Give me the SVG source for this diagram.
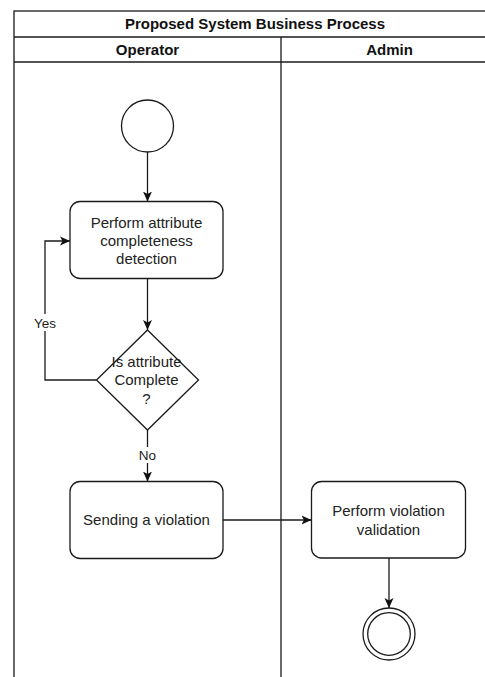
<svg xmlns="http://www.w3.org/2000/svg" width="485" height="677" viewBox="0 0 485 677">
<style>
.ln{stroke:#1a1a1a;stroke-width:1.3;fill:none}
.shape{stroke:#1a1a1a;stroke-width:1.3;fill:#ffffff}
.t{font-family:"Liberation Sans",Arial,sans-serif;font-size:15px;fill:#222;text-anchor:middle}
.h{font-family:"Liberation Sans",Arial,sans-serif;font-size:15px;font-weight:bold;fill:#111;text-anchor:middle}
.lbl{font-family:"Liberation Sans",Arial,sans-serif;font-size:13.5px;fill:#222;text-anchor:middle}
</style>
<defs>
<marker id="arr" viewBox="0 0 10 10" refX="10" refY="5" markerWidth="10" markerHeight="10" markerUnits="userSpaceOnUse" orient="auto">
<path d="M0,0.5 L10,5 L0,9.5 L2.5,5 z" fill="#111"/>
</marker>
</defs>
<rect width="485" height="677" fill="#ffffff"/>
<g id="pool">
<rect class="ln" x="14" y="11" width="483" height="680"/>
<line class="ln" x1="14" y1="37" x2="497" y2="37"/>
<line class="ln" x1="14" y1="62" x2="497" y2="62"/>
<line class="ln" x1="281" y1="37" x2="281" y2="690"/>
<text class="h" x="255" y="28.5">Proposed System Business Process</text>
<text class="h" x="147.5" y="54.5">Operator</text>
<text class="h" x="389.5" y="54.5">Admin</text>
</g>
<g id="connectors">
<line class="ln" x1="147.5" y1="152" x2="147.5" y2="201.5" marker-end="url(#arr)"/>
<line class="ln" x1="147.5" y1="278.5" x2="147.5" y2="330" marker-end="url(#arr)"/>
<polyline class="ln" points="96.5,380 45,380 45,241 70,241" marker-end="url(#arr)"/>
<line class="ln" x1="147.5" y1="430" x2="147.5" y2="481.5" marker-end="url(#arr)"/>
<line class="ln" x1="223" y1="520" x2="311.5" y2="520" marker-end="url(#arr)"/>
<line class="ln" x1="389" y1="558" x2="389" y2="608" marker-end="url(#arr)"/>
<rect x="33" y="314" width="24" height="17" fill="#ffffff"/>
<text class="lbl" x="45" y="327.5">Yes</text>
<rect x="137" y="447" width="21" height="16" fill="#ffffff"/>
<text class="lbl" x="147.5" y="460">No</text>
</g>
<g id="start">
<circle class="shape" cx="147.5" cy="126" r="26"/>
</g>
<g id="detect">
<rect class="shape" x="70" y="201.5" width="153" height="77" rx="10"/>
<text class="t" x="146.5" y="227.5">Perform attribute</text>
<text class="t" x="146.5" y="245.5">completeness</text>
<text class="t" x="146.5" y="263.5">detection</text>
</g>
<g id="decision">
<polygon class="shape" points="147.5,330 198.5,380 147.5,430 96.5,380"/>
<text class="t" x="146.5" y="367">Is attribute</text>
<text class="t" x="146.5" y="385">Complete</text>
<text class="t" x="146.5" y="403.5">?</text>
</g>
<g id="send">
<rect class="shape" x="70" y="481.5" width="153" height="77" rx="10"/>
<text class="t" x="146.5" y="525">Sending a violation</text>
</g>
<g id="validate">
<rect class="shape" x="311.5" y="481.5" width="154" height="76.5" rx="10"/>
<text class="t" x="388.5" y="515.5">Perform violation</text>
<text class="t" x="388.5" y="534.5">validation</text>
</g>
<g id="end">
<circle class="shape" cx="389" cy="634" r="26"/>
<circle class="shape" cx="389" cy="634" r="21.3"/>
</g>
</svg>
